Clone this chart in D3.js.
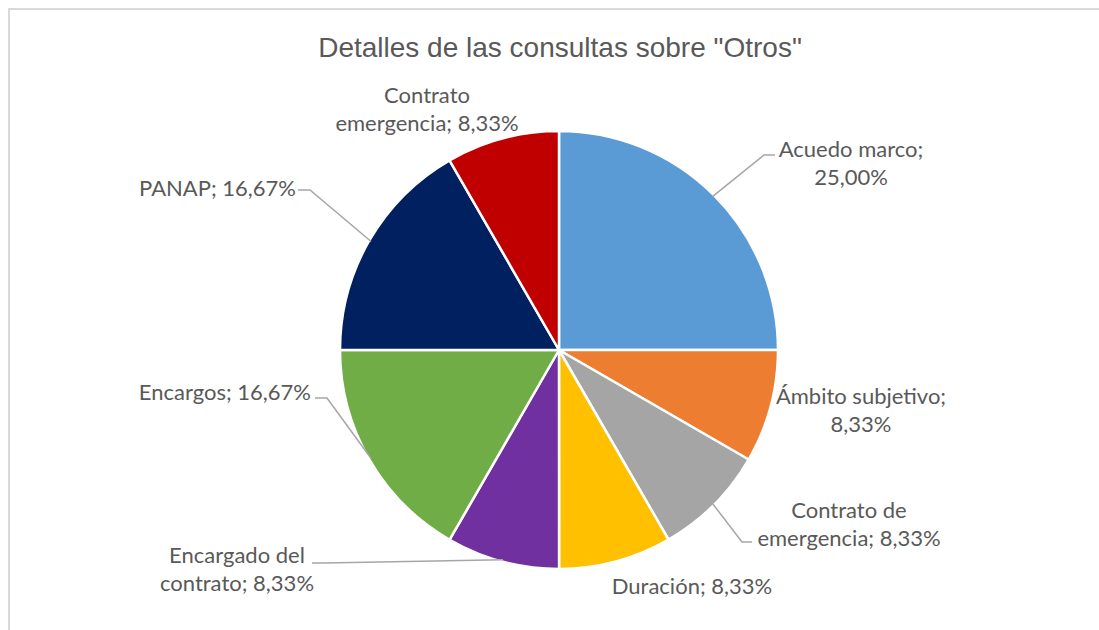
<!DOCTYPE html>
<html>
<head>
<meta charset="utf-8">
<title>Detalles de las consultas sobre "Otros"</title>
<script src="https://d3js.org/d3.v7.min.js"></script>
<style>
  body { margin: 0; background: #fff; }
  .lbl { font-family: Lato, "Open Sans", sans-serif; font-size: 22px; fill: #595959; }
  .title { font-family: "Liberation Sans Narrow", "Liberation Sans", Arial, sans-serif; font-size: 28px; fill: #595959; }
</style>
</head>
<body>
<svg id="chart" width="1099" height="630"></svg>
<script>
// data
const categories = ["Acuedo marco", "Ámbito subjetivo", "Contrato de emergencia", "Duración",
                    "Encargado del contrato", "Encargos", "PANAP", "Contrato emergencia"];
const values = [25.00, 8.33, 8.33, 8.33, 8.33, 16.67, 16.67, 8.33];
const colors = ["#5B9BD5", "#ED7D31", "#A5A5A5", "#FFC000", "#7030A0", "#70AD47", "#002060", "#C00000"];
// label text lines, as they wrap in the original
const labelLines = [
  ["Acuedo marco;", "25,00%"],
  ["Ámbito subjetivo;", "8,33%"],
  ["Contrato de", "emergencia; 8,33%"],
  ["Duración; 8,33%"],
  ["Encargado del", "contrato; 8,33%"],
  ["Encargos; 16,67%"],
  ["PANAP; 16,67%"],
  ["Contrato", "emergencia; 8,33%"]
];

const svg = d3.select("#chart");

// chart frame
svg.append("path")
  .attr("d", "M9,630 V9 H1099")
  .attr("fill", "none")
  .attr("stroke", "#d9d9d9")
  .attr("stroke-width", 2);

svg.append("text")
  .attr("class", "title")
  .attr("x", 560)
  .attr("y", 57)
  .attr("text-anchor", "middle")
  .text('Detalles de las consultas sobre "Otros"');

const cx = 559, cy = 350, r = 219;
const g = svg.append("g").attr("transform", "translate(" + cx + "," + cy + ")");

const data = categories.map((c, i) => ({name: c, value: values[i], color: colors[i], lines: labelLines[i]}));

const pie = d3.pie().value(d => d.value).sort(null);
const arc = d3.arc().innerRadius(0).outerRadius(r);
const arcs = pie(data);

g.selectAll("path.slice")
  .data(arcs)
  .enter()
  .append("path")
  .attr("class", "slice")
  .attr("d", arc)
  .attr("fill", d => d.data.color)
  .attr("stroke", "#fff")
  .attr("stroke-width", 2.5)
  .attr("stroke-linejoin", "round");

// label placement relative to the pie centre
// ex/ey = elbow of the leader line, tx = where it meets the text
const labelPos = [
  {x: 292, y: -193, anchor: "middle", leader: {ex: 205, ey: -195, tx: 216}},
  {x: 302, y: 54,   anchor: "middle"},
  {x: 290, y: 168,  anchor: "middle", leader: {ex: 183, ey: 192, tx: 193}},
  {x: 133, y: 244,  anchor: "middle"},
  {x: -322, y: 213, anchor: "middle", leader: {ex: -235, ey: 213, tx: -247}},
  {x: -248, y: 50,  anchor: "end", leader: {ex: -232, ey: 48, tx: -244}},
  {x: -263, y: -154, anchor: "end", leader: {ex: -249, ey: -160, tx: -261}},
  {x: -132, y: -247, anchor: "middle"}
];
const lineH = 28;

arcs.forEach((a, i) => {
  const p = labelPos[i];
  if (p.leader) {
    const mid = (a.startAngle + a.endAngle) / 2;
    const sx = Math.sin(mid) * (r - 2), sy = -Math.cos(mid) * (r - 2);
    const L = p.leader;
    g.append("polyline")
      .attr("points", [[sx, sy], [L.ex, L.ey], [L.tx, L.ey]].map(q => q.join(",")).join(" "))
      .attr("fill", "none")
      .attr("stroke", "#a6a6a6")
      .attr("stroke-width", 1.5);
  }
  const t = g.append("text")
    .attr("class", "lbl")
    .attr("text-anchor", p.anchor);
  a.data.lines.forEach((ln, k) => {
    t.append("tspan")
      .attr("x", p.x)
      .attr("y", p.y + k * lineH)
      .text(ln);
  });
});
</script>
</body>
</html>
